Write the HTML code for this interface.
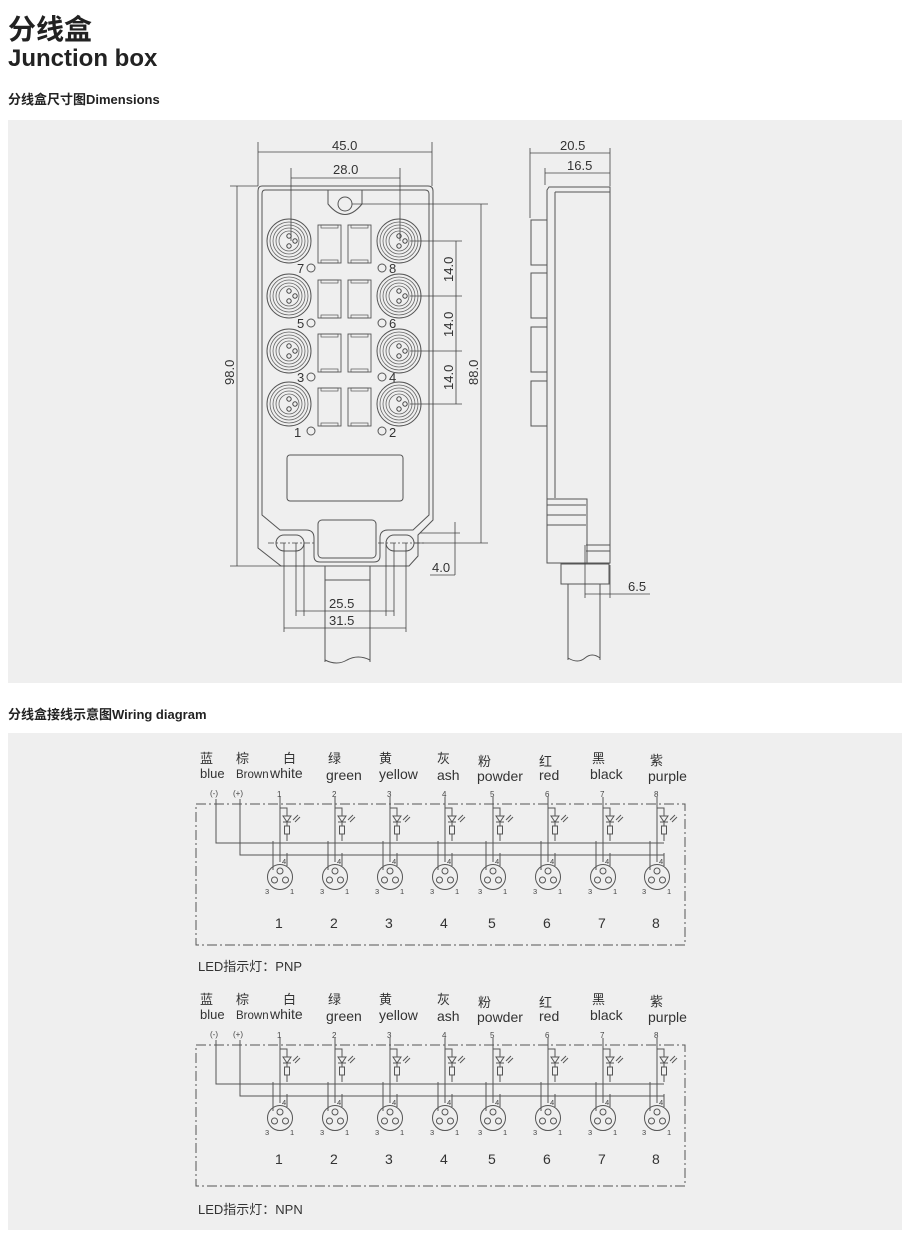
<!DOCTYPE html>
<html><head><meta charset="utf-8"><style>
html,body{margin:0;padding:0;background:#fff;}
svg{display:block;font-family:"Liberation Sans","Noto Sans CJK SC",sans-serif;}
</style></head><body>
<svg width="910" height="1238" viewBox="0 0 910 1238" xmlns="http://www.w3.org/2000/svg">
<defs>
<g id="conn">
 <circle r="22" fill="none" stroke="#555" stroke-width="1"/>
 <circle r="19" fill="none" stroke="#666" stroke-width="0.8"/>
 <circle r="16" fill="none" stroke="#666" stroke-width="0.8"/>
 <circle r="13" fill="none" stroke="#666" stroke-width="0.8"/>
 <circle r="10" fill="none" stroke="#666" stroke-width="0.8"/>
 <circle cx="0" cy="-5" r="2.2" fill="none" stroke="#444"/>
 <circle cx="0" cy="5" r="2.2" fill="none" stroke="#444"/>
 <circle cx="6" cy="0" r="2.2" fill="none" stroke="#444"/>
</g>
<g id="led">
 <rect x="0" y="0" width="23" height="38" fill="none" stroke="#555" stroke-width="0.9"/>
 <rect x="3" y="0" width="17" height="3" fill="none" stroke="#555" stroke-width="0.7"/>
 <rect x="3" y="35" width="17" height="3" fill="none" stroke="#555" stroke-width="0.7"/>
</g>
<g id="ch" stroke="#555" stroke-width="1" fill="none">
 <line x1="0" y1="-5" x2="0" y2="60"/>
 <polyline points="0,6 7,6 7,14"/>
 <polygon points="3,14 11,14 7,20"/>
 <line x1="3" y1="20" x2="11" y2="20"/>
 <line x1="7" y1="20" x2="7" y2="24"/>
 <rect x="4.5" y="24" width="5" height="8"/>
 <line x1="7" y1="32" x2="7" y2="39"/>
 <line x1="13" y1="18" x2="18" y2="13"/>
 <line x1="15" y1="20" x2="20" y2="15"/>
 <line x1="-7" y1="39" x2="-7" y2="68"/>
 <line x1="7" y1="51" x2="7" y2="64"/>
 <circle cx="0" cy="75" r="12.5"/>
 <circle cx="0" cy="69" r="3"/>
 <circle cx="-5.5" cy="78" r="3"/>
 <circle cx="5.5" cy="78" r="3"/>
</g>
<g id="chlab" font-size="7.5" fill="#444">
 <text x="2" y="62">4</text><text x="-15" y="92">3</text><text x="10" y="92">1</text>
</g>
<g id="hdr">
<g font-size="13" fill="#333">
<text x="200" y="763">蓝</text><text x="236" y="763">棕</text><text x="283" y="763">白</text><text x="328" y="763">绿</text><text x="379" y="763">黄</text><text x="437" y="763">灰</text><text x="478" y="766">粉</text><text x="539" y="766">红</text><text x="592" y="763">黑</text><text x="650" y="765">紫</text>
<text x="200" y="778">blue</text><text x="236" y="778" font-size="11.5">Brown</text><text x="270" y="778" font-size="14">white</text><text x="326" y="780" font-size="14">green</text><text x="379" y="779" font-size="14">yellow</text><text x="437" y="780" font-size="14">ash</text><text x="477" y="781" font-size="14">powder</text><text x="539" y="780" font-size="14">red</text><text x="590" y="779" font-size="14">black</text><text x="648" y="781" font-size="14">purple</text>
</g>
<g font-size="8" fill="#444">
<text x="210" y="796">(-)</text><text x="233" y="796">(+)</text>
<text x="277" y="797">1</text><text x="332" y="797">2</text><text x="387" y="797">3</text><text x="442" y="797">4</text><text x="490" y="797">5</text><text x="545" y="797">6</text><text x="600" y="797">7</text><text x="654" y="797">8</text>
</g>
<rect x="196" y="804" width="489" height="141" fill="none" stroke="#555" stroke-dasharray="10,3,2,3"/>
<g stroke="#555" fill="none">
<polyline points="216,799 216,843 664,843"/>
<polyline points="240,799 240,855 664,855"/>
</g>
<g transform="translate(0,802)">
<use href="#ch" x="280"/><use href="#ch" x="335"/><use href="#ch" x="390"/><use href="#ch" x="445"/><use href="#ch" x="493"/><use href="#ch" x="548"/><use href="#ch" x="603"/><use href="#ch" x="657"/>
<use href="#chlab" x="280"/><use href="#chlab" x="335"/><use href="#chlab" x="390"/><use href="#chlab" x="445"/><use href="#chlab" x="493"/><use href="#chlab" x="548"/><use href="#chlab" x="603"/><use href="#chlab" x="657"/>
</g>
</g>
</defs>

<text x="8" y="39" font-size="28" font-weight="bold" fill="#222">分线盒</text>
<text x="8" y="66" font-size="24" font-weight="bold" fill="#222">Junction box</text>
<text x="8" y="104" font-size="13" font-weight="bold" fill="#222">分线盒尺寸图Dimensions</text>
<rect x="8" y="120" width="894" height="563" fill="#efefef"/>

<g stroke="#555" fill="none" stroke-width="1">
<path d="M262,186 H428 Q433,186 433,191 V520 L418,535 V556 L409,566 H281 L258,548 V191 Q258,186 262,186 Z"/>
<path d="M265,190 H425 Q429,190 429,194 V515 L413,530 H388 Q380,530 380,538 V556 Q380,562 374,562 H320 Q314,562 314,556 V538 Q314,530 306,530 H280 L262,515 V194 Q262,190 265,190 Z"/>
<path d="M328,190 V204 Q345,225 362,204 V190"/>
<circle cx="345" cy="204" r="7"/>
<rect x="287" y="455" width="116" height="46" rx="3"/>
<rect x="318" y="520" width="58" height="38" rx="4"/>
<rect x="276" y="535" width="28" height="16" rx="8"/>
<rect x="386" y="535" width="28" height="16" rx="8"/>
<rect x="325" y="566" width="45" height="14"/>
<path d="M325,580 V662 M370,580 V662 M325,660 Q337,666 347,660 Q358,654 370,660"/>
</g>
<use href="#conn" x="289" y="241"/><use href="#conn" x="399" y="241"/>
<use href="#conn" x="289" y="296"/><use href="#conn" x="399" y="296"/>
<use href="#conn" x="289" y="351"/><use href="#conn" x="399" y="351"/>
<use href="#conn" x="289" y="404"/><use href="#conn" x="399" y="404"/>
<use href="#led" x="318" y="225"/><use href="#led" x="348" y="225"/>
<use href="#led" x="318" y="280"/><use href="#led" x="348" y="280"/>
<use href="#led" x="318" y="334"/><use href="#led" x="348" y="334"/>
<use href="#led" x="318" y="388"/><use href="#led" x="348" y="388"/>
<g stroke="#555" fill="none"><circle cx="311" cy="268" r="4"/><circle cx="382" cy="268" r="4"/><circle cx="311" cy="323" r="4"/><circle cx="382" cy="323" r="4"/><circle cx="311" cy="377" r="4"/><circle cx="382" cy="377" r="4"/><circle cx="311" cy="431" r="4"/><circle cx="382" cy="431" r="4"/></g>
<g font-size="13" fill="#333">
<text x="297" y="273">7</text><text x="389" y="273">8</text><text x="297" y="328">5</text><text x="389" y="328">6</text><text x="297" y="382">3</text><text x="389" y="382">4</text><text x="294" y="437">1</text><text x="389" y="437">2</text>
</g>

<g stroke="#444" stroke-width="0.8" fill="none">
<line x1="258" y1="142" x2="258" y2="186"/><line x1="432" y1="142" x2="432" y2="186"/>
<line x1="258" y1="152" x2="432" y2="152"/>
<line x1="291" y1="168" x2="291" y2="241"/><line x1="400" y1="168" x2="400" y2="241"/>
<line x1="291" y1="178" x2="400" y2="178"/>
<line x1="230" y1="186" x2="258" y2="186"/><line x1="230" y1="566" x2="282" y2="566"/>
<line x1="237" y1="186" x2="237" y2="566"/>
<line x1="352" y1="204" x2="488" y2="204"/><line x1="414" y1="543" x2="488" y2="543"/>
<line x1="481" y1="204" x2="481" y2="543"/>
<line x1="410" y1="241" x2="462" y2="241"/><line x1="410" y1="296" x2="462" y2="296"/><line x1="410" y1="351" x2="462" y2="351"/><line x1="410" y1="404" x2="462" y2="404"/>
<line x1="456" y1="241" x2="456" y2="404"/>
<line x1="420" y1="533" x2="460" y2="533"/>
<line x1="455" y1="522" x2="455" y2="575"/><line x1="430" y1="575" x2="455" y2="575"/>
<line x1="296" y1="543" x2="296" y2="616"/><line x1="304" y1="543" x2="304" y2="616"/>
<line x1="386" y1="543" x2="386" y2="616"/><line x1="394" y1="543" x2="394" y2="616"/>
<line x1="296" y1="611" x2="394" y2="611"/>
<line x1="284" y1="543" x2="284" y2="632"/><line x1="406" y1="543" x2="406" y2="632"/>
<line x1="284" y1="628" x2="406" y2="628"/>
<line x1="268" y1="543" x2="314" y2="543" stroke-dasharray="6,2,2,2"/>
<line x1="378" y1="543" x2="424" y2="543" stroke-dasharray="6,2,2,2"/>
</g>
<g font-size="13" fill="#333">
<text x="332" y="150">45.0</text><text x="333" y="174">28.0</text>
<text x="329" y="608">25.5</text><text x="329" y="625">31.5</text>
<text x="432" y="572">4.0</text>
<text transform="translate(234,385) rotate(-90)">98.0</text>
<text transform="translate(478,385) rotate(-90)">88.0</text>
<text transform="translate(453,282) rotate(-90)">14.0</text>
<text transform="translate(453,337) rotate(-90)">14.0</text>
<text transform="translate(453,390) rotate(-90)">14.0</text>
</g>

<g stroke="#555" fill="none" stroke-width="1">
<path d="M549,187 H610 V563 H547 V190 Z"/>
<line x1="555" y1="192" x2="555" y2="498"/>
<line x1="555" y1="192" x2="610" y2="192"/>
<rect x="531" y="220" width="16" height="45"/><rect x="531" y="273" width="16" height="45"/>
<rect x="531" y="327" width="16" height="45"/><rect x="531" y="381" width="16" height="45"/>
<rect x="547" y="499" width="40" height="64"/>
<line x1="547" y1="505" x2="586" y2="505"/><line x1="547" y1="515" x2="586" y2="515"/><line x1="547" y1="525" x2="586" y2="525"/>
<line x1="586" y1="545" x2="610" y2="545"/><line x1="586" y1="551" x2="610" y2="551"/>
<rect x="561" y="564" width="48" height="20"/>
<path d="M568,584 V660 M600,584 V660 M568,658 Q578,664 585,658 Q592,652 600,658"/>
</g>
<g stroke="#444" stroke-width="0.8">
<line x1="530" y1="148" x2="530" y2="218"/><line x1="610" y1="148" x2="610" y2="186"/>
<line x1="530" y1="153" x2="610" y2="153"/>
<line x1="545" y1="168" x2="545" y2="185"/><line x1="545" y1="173" x2="610" y2="173"/>
<line x1="585" y1="545" x2="585" y2="598"/><line x1="610" y1="565" x2="610" y2="598"/>
<line x1="585" y1="594" x2="650" y2="594"/>
</g>
<g font-size="13" fill="#333"><text x="560" y="150">20.5</text><text x="567" y="170">16.5</text><text x="628" y="591">6.5</text></g>

<text x="8" y="719" font-size="13" font-weight="bold" fill="#222">分线盒接线示意图Wiring diagram</text>
<rect x="8" y="733" width="894" height="497" fill="#efefef"/>

<use href="#hdr"/>
<g font-size="14" fill="#333">
<text x="275" y="928">1</text><text x="330" y="928">2</text><text x="385" y="928">3</text><text x="440" y="928">4</text><text x="488" y="928">5</text><text x="543" y="928">6</text><text x="598" y="928">7</text><text x="652" y="928">8</text>
</g>
<text x="198" y="971" font-size="13" fill="#333">LED指示灯：PNP</text>

<use href="#hdr" y="241"/>
<g font-size="14" fill="#333">
<text x="275" y="1164">1</text><text x="330" y="1164">2</text><text x="385" y="1164">3</text><text x="440" y="1164">4</text><text x="488" y="1164">5</text><text x="543" y="1164">6</text><text x="598" y="1164">7</text><text x="652" y="1164">8</text>
</g>
<text x="198" y="1214" font-size="13" fill="#333">LED指示灯：NPN</text>
</svg>
</body></html>
